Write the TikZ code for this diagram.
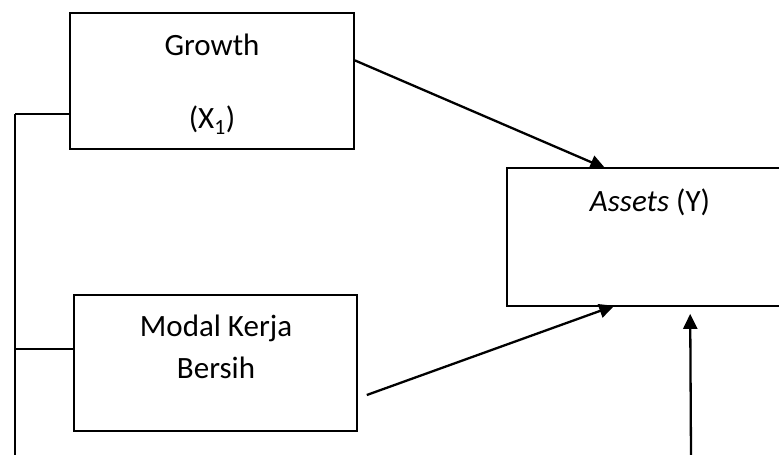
\documentclass[tikz,border=0pt]{standalone}
\usepackage{fontspec}
\setmainfont{Carlito}
\usetikzlibrary{arrows.meta,calc}
\begin{document}
\begin{tikzpicture}[x=1pt,y=-1pt,
  box/.style={draw,line width=1.6pt,minimum width=#1,inner sep=0pt},
  lbl/.style={font=\fontsize{31}{37}\selectfont,inner sep=0pt,anchor=center},
  conn/.style={line width=1.6pt},
  arr/.style={line width=2.3pt,-{Triangle[length=15pt,width=14pt]}}]
\useasboundingbox (0,0) rectangle (779,455);
% boxes
\node[box=284pt,minimum height=136pt] (growth) at (212,81) {};
\node[box=283pt,minimum height=136pt] (modal) at (215.5,363) {};
\node[box=292pt,minimum height=136pt,draw=none] (assets) at (654,237) {};
\coordinate (edge) at (779,0);
\draw[conn] (edge |- assets.north west) -- (assets.north west) -- (assets.south west) -- (edge |- assets.south west);
% texts
\node[lbl] (tg) at (212,45) {Growth};
\node[lbl] (tx) at (212,120) {(X\textsubscript{1})};
\node[lbl] (tm1) at (216,328) {Modal Kerja};
\node[lbl] (tm2) at (216,368) {Bersih};
\node[lbl] (ta) at (650,202) {\textit{Assets} (Y)};
% left bracket line
\coordinate (lt) at (15,114);
\coordinate (lb) at (15,455);
\draw[conn] (lt) -- (lb);
\draw[conn] (lt) -- (lt -| growth.west);
\draw[conn] (15,349) -- (15,349 -| modal.west);
% arrows
\draw[arr] ($(growth.north east)!0.35!(growth.south east)$) -- ($(assets.north west)+(98,0)$);
\draw[arr] ($(modal.east)+(9,32)$) -- ($(assets.south west)+(107,0)$);
\coordinate (vb) at (691,455);
\draw[arr] (vb) -- ($(assets.south west)+(183,8)$);
\end{tikzpicture}
\end{document}
